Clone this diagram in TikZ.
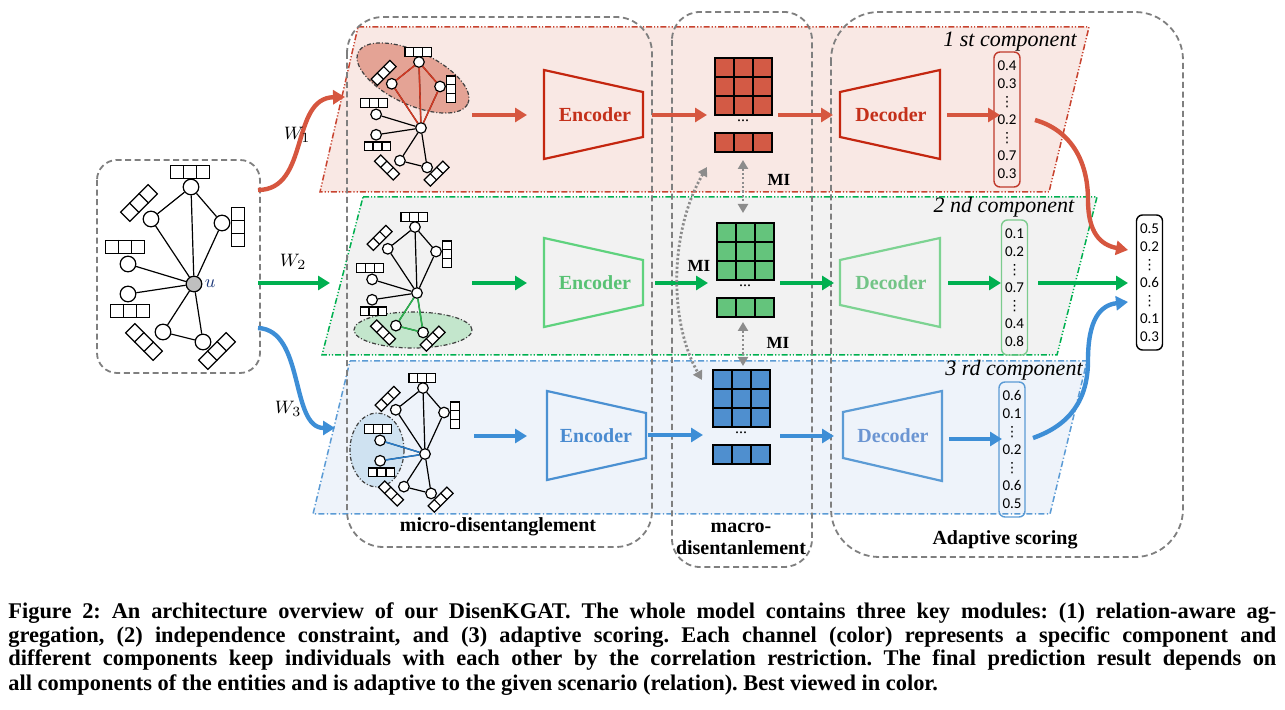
\documentclass[tikz,border=0pt]{standalone}
\usepackage{fontspec}
\setmainfont{Liberation Serif}
\newfontfamily\carlito{Carlito}
\newfontfamily\dejavu{DejaVu Sans}
\usetikzlibrary{arrows.meta,shapes.geometric,calc}
\definecolor{boxgray}{HTML}{7F7F7F}
\definecolor{migray}{HTML}{8C8C8C}
\definecolor{hlgray}{HTML}{404040}
\definecolor{ugray}{HTML}{BFBFBF}
\definecolor{ublue}{HTML}{1F3A7A}
\definecolor{bandRf}{HTML}{F9E8E4}
\definecolor{bandRd}{HTML}{C8432F}
\definecolor{bandGf}{HTML}{F2F2F2}
\definecolor{bandGd}{HTML}{00B050}
\definecolor{bandBf}{HTML}{EEF3FA}
\definecolor{bandBd}{HTML}{5B9BD5}
\definecolor{ellR}{HTML}{E4A395}
\definecolor{ellG}{HTML}{C3E6CC}
\definecolor{ellB}{HTML}{CFE2F1}
\definecolor{edR}{HTML}{D03A24}
\definecolor{edG}{HTML}{2DB34F}
\definecolor{edB}{HTML}{2A7CC8}
\definecolor{encRs}{HTML}{C4260F}
\definecolor{encRt}{HTML}{C4301A}
\definecolor{encGs}{HTML}{5FD27E}
\definecolor{encGt}{HTML}{58C274}
\definecolor{encBs}{HTML}{4A90D2}
\definecolor{encBt}{HTML}{4A8BD0}
\definecolor{decGs}{HTML}{7DD392}
\definecolor{decGt}{HTML}{72C486}
\definecolor{decBs}{HTML}{5B9BD5}
\definecolor{decBt}{HTML}{6B95D2}
\definecolor{aR}{HTML}{D6563F}
\definecolor{aG}{HTML}{00B050}
\definecolor{aB}{HTML}{3D8ED6}
\definecolor{mR}{HTML}{D35A45}
\definecolor{mG}{HTML}{64C47C}
\definecolor{mB}{HTML}{4F8FCF}
\definecolor{vR}{HTML}{C0392B}
\definecolor{vG}{HTML}{7CCB8E}
\definecolor{vB}{HTML}{5B9BD5}
\newcommand\vdt{{\dejavu\fontsize{7}{9}\selectfont ⋮}}
\newcommand\stripdiv[1]{\draw[gedge] ($(#1.north west)!0.3333!(#1.north east)$) -- ($(#1.south west)!0.3333!(#1.south east)$) ($(#1.north west)!0.6667!(#1.north east)$) -- ($(#1.south west)!0.6667!(#1.south east)$);}
% #1 prefix, #2 scale, #3 x, #4 y, #5 centre fill
\newcommand\kgraph[5]{%
\begin{scope}[shift={(#3,#4)}, scale=#2, every node/.append style={transform shape}]
\node[gnode, fill=#5] (#1u) at (0,0) {};
\node[gnode] (#1t) at (-3,-97) {};
\node[gnode] (#1a) at (-43,-65) {};
\node[gnode] (#1r) at (28,-61) {};
\node[gnode] (#1m) at (-66,-20) {};
\node[gnode] (#1n) at (-66,10) {};
\node[gnode] (#1p) at (-31,48) {};
\node[gnode] (#1q) at (9,58) {};
\node[strip] (#1st) at (-4,-112) {};
\node[strip, rotate=45] (#1sa) at (-55,-81) {};
\node[strip, rotate=90] (#1sr) at (44,-57) {};
\node[strip] (#1sm) at (-69,-37) {};
\node[strip] (#1sn) at (-64,27) {};
\node[strip, rotate=-45] (#1sp) at (-50,58) {};
\node[strip, rotate=45] (#1sq) at (23,67) {};
\draw[gedge] (#1u) -- (#1t) (#1u) -- (#1a) (#1u) -- (#1r) (#1t) -- (#1a) (#1t) -- (#1r)
  (#1u) -- (#1m) (#1u) -- (#1n) (#1u) -- (#1p) (#1u) -- (#1q) (#1p) -- (#1q);
\end{scope}
\stripdiv{#1st}\stripdiv{#1sa}\stripdiv{#1sr}\stripdiv{#1sm}\stripdiv{#1sn}\stripdiv{#1sp}\stripdiv{#1sq}}
\begin{document}
\begin{tikzpicture}[x=0.5pt, y=-0.5pt,
  gnode/.style={circle, draw, fill=white, minimum size=7.8pt, inner sep=0pt, line width=0.6pt},
  strip/.style={draw, fill=white, minimum width=19.5pt, minimum height=6.5pt, inner sep=0pt, line width=0.6pt},
  gedge/.style={line width=0.6pt},
  hledge/.style={line width=0.75pt},
  modbox/.style={draw=boxgray, line width=0.9pt, dash pattern=on 3pt off 1.8pt},
  bandline/.style={line width=0.75pt, dash pattern=on 3pt off 1pt on 0.6pt off 1pt on 0.6pt off 1pt},
  bandline2/.style={line width=0.75pt, dash pattern=on 3pt off 1.2pt on 0.6pt off 1.2pt},
  arr/.style={line width=2.2pt, -{Triangle[length=6pt,width=7pt]}},
  miarr/.style={draw=migray, line width=1.4pt, dash pattern=on 1.1pt off 1.1pt, {Triangle[length=4.5pt,width=5pt]}-{Triangle[length=4.5pt,width=5pt]}},
  hl/.style={ellipse, draw=hlgray, line width=0.6pt, inner sep=0pt, dash pattern=on 2pt off 1pt on 0.5pt off 1pt},
  coder/.style={font=\bfseries\fontsize{10}{12}\selectfont},
  trap/.style={line width=1.1pt},
  vec/.style={draw, rounded corners=3pt, line width=0.7pt, minimum width=13pt, minimum height=67.5pt, inner sep=0pt, align=center, font=\carlito\fontsize{7.5}{9}\selectfont},
  comp/.style={font=\itshape\fontsize{11}{13}\selectfont},
  modlab/.style={font=\bfseries\fontsize{10}{12}\selectfont, align=center},
  milab/.style={font=\bfseries\fontsize{8.5}{10}\selectfont},
  wlab/.style={font=\fontsize{9.5}{11}\selectfont},
  caption/.style={font=\bfseries\fontsize{11.2}{12}\selectfont\frenchspacing, anchor=base west, inner sep=0pt},
  cell/.style={draw=black, line width=0.7pt}
]
\useasboundingbox (0,0) rectangle (1285,710);

% ---- bands
\draw[bandline, draw=bandRd, fill=bandRf] (358,27) -- (1089,27) -- (1049,192) -- (320,192) -- cycle;
\draw[bandline, draw=bandGd, fill=bandGf] (363,197) -- (1097,197) -- (1057,355) -- (322,355) -- cycle;
\draw[bandline2, draw=bandBd, fill=bandBf] (350,361) -- (1087,361) -- (1050,514) -- (313,514) -- cycle;

% ---- module boxes
\draw[modbox, rounded corners=10pt] (97,160) rectangle (260,373);
\draw[modbox, rounded corners=18pt] (347,17) rectangle (652,547);
\draw[modbox, rounded corners=14pt] (672,12) rectangle (812,567);
\draw[modbox, rounded corners=24pt] (831,12) rectangle (1183,557);

% ---- highlight ellipses
\node[hl, fill=ellR, minimum width=60.5pt, minimum height=26.5pt, rotate=-25] (elR) at (413,78) {};
\node[hl, fill=ellG, minimum width=59pt, minimum height=18pt] (elG) at (413,330) {};
\node[hl, fill=ellB, minimum width=27pt, minimum height=37pt] (elB) at (377,450) {};

% ---- graphs
\kgraph{L-}{1}{194}{284}{ugray}
\kgraph{R-}{0.68}{421}{128}{white}
\kgraph{G-}{0.68}{417}{293}{white}
\kgraph{B-}{0.68}{425}{454}{white}
\node[anchor=west, inner sep=1pt, text=ublue, font=\fontsize{9}{10}\selectfont] (ulab) at (L-u.east) {$u$};

\draw[hledge, edR] (R-u) -- (R-t) (R-u) -- (R-a) (R-u) -- (R-r) (R-t) -- (R-a) (R-t) -- (R-r);
\draw[hledge, edG] (G-u) -- (G-p) (G-u) -- (G-q) (G-p) -- (G-q);
\draw[hledge, edB] (B-u) -- (B-m) (B-u) -- (B-n);

% ---- encoders / decoders
\draw[trap, encRs] (544,70) -- (643,92) -- (643,137) -- (544,159) -- cycle;
\node[coder, text=encRt] (encR) at (595,115) {Encoder};
\draw[trap, encGs] (544,238) -- (643,260) -- (643,305) -- (544,327) -- cycle;
\node[coder, text=encGt] (encG) at (595,283) {Encoder};
\draw[trap, encBs] (547,391) -- (646,413) -- (646,458) -- (547,480) -- cycle;
\node[coder, text=encBt] (encB) at (596,436) {Encoder};

\draw[trap, encRs] (840,92) -- (940,70) -- (940,159) -- (840,137) -- cycle;
\node[coder, text=encRt] (decR) at (891,115) {Decoder};
\draw[trap, decGs] (840,260) -- (940,238) -- (940,327) -- (840,305) -- cycle;
\node[coder, text=decGt] (decG) at (891,283) {Decoder};
\draw[trap, decBs] (843,412) -- (942,391) -- (942,481) -- (843,458) -- cycle;
\node[coder, text=decBt] (decB) at (893,436) {Decoder};

% ---- matrices
\foreach \c/\x/\y/\r in {mR/715/58/133, mG/717/223/298, mB/713/370/445}{
  \foreach \i in {0,1,2}{
    \foreach \j in {0,1,2}{
      \draw[cell, fill=\c] (\x+19*\i,\y+19*\j) rectangle (\x+19*\i+19,\y+19*\j+19);
    }
    \draw[cell, fill=\c] (\x+19*\i,\r) rectangle (\x+19*\i+19,\r+19);
  }
}
\node[font=\fontsize{8}{9}\selectfont, inner sep=0pt] (dotR) at (743,121) {...};
\node[font=\fontsize{8}{9}\selectfont, inner sep=0pt] (dotG) at (745,286) {...};
\node[font=\fontsize{8}{9}\selectfont, inner sep=0pt] (dotB) at (741,433) {...};

% ---- vectors
\node[vec, draw=vR] (vecR) at (1007,119.5) {0.4\\0.3\\\vdt\\0.2\\\vdt\\0.7\\0.3};
\node[vec, draw=vG] (vecG) at (1014.5,287.5) {0.1\\0.2\\\vdt\\0.7\\\vdt\\0.4\\0.8};
\node[vec, draw=vB] (vecB) at (1012,449.5) {0.6\\0.1\\\vdt\\0.2\\\vdt\\0.6\\0.5};
\node[vec, draw=black] (vecF) at (1149.5,282.5) {0.5\\0.2\\\vdt\\0.6\\\vdt\\0.1\\0.3};

% ---- component labels
\node[comp] (compR) at (1010,42) {1 \textit{st} component};
\node[comp] (compG) at (1004,207) {2 \textit{nd} component};
\node[comp] (compB) at (1014,370) {3 \textit{rd} component};

% ---- arrow coordinates
\coordinate (w1s) at (258,190); \coordinate (w1e) at (345,97);
\coordinate (w2s) at (258,283); \coordinate (w2e) at (330,283);
\coordinate (w3s) at (258,328); \coordinate (w3e) at (335,428);
\coordinate (r1) at (472,115); \coordinate (r2) at (527,115);
\coordinate (r3) at (652,115); \coordinate (r4) at (707,115);
\coordinate (r5) at (778,115); \coordinate (r6) at (833,115);
\coordinate (r7) at (947,115); \coordinate (r8) at (1000,115);
\coordinate (r9) at (1035,120); \coordinate (rm) at (1088,200); \coordinate (r10) at (1128,250);
\coordinate (g1) at (472,283); \coordinate (g2) at (527,283);
\coordinate (g3) at (655,283); \coordinate (g4) at (708,283);
\coordinate (g5) at (780,283); \coordinate (g6) at (834,283);
\coordinate (g7) at (948,283); \coordinate (g8) at (1001,283);
\coordinate (g9) at (1038,283); \coordinate (g10) at (1128,283);
\coordinate (b1) at (474,436); \coordinate (b2) at (527,436);
\coordinate (b3) at (648,435); \coordinate (b4) at (703,435);
\coordinate (b5) at (780,436); \coordinate (b6) at (834,436);
\coordinate (b7) at (949,439); \coordinate (b8) at (1002,439);
\coordinate (b9) at (1033,438); \coordinate (bm) at (1088,360); \coordinate (b10) at (1128,302);
\coordinate (mi1a) at (743,160); \coordinate (mi1b) at (743,213);
\coordinate (mi2a) at (743,322); \coordinate (mi2b) at (743,366);
\coordinate (mi3a) at (707,167); \coordinate (mi3b) at (702,380);

% ---- arrows
\draw[arr, aR] (w1s) .. controls (310,190) and (290,98) .. (w1e);
\draw[arr, aG] (w2s) -- (w2e);
\draw[arr, aB] (w3s) .. controls (305,330) and (290,428) .. (w3e);
\draw[arr, aR] (r1) -- (r2);
\draw[arr, aR] (r3) -- (r4);
\draw[arr, aR] (r5) -- (r6);
\draw[arr, aR] (r7) -- (r8);
\draw[arr, aR] (r9) .. controls (1070,130) and (1088,160) .. (rm) .. controls (1088,232) and (1100,245) .. (r10);
\draw[arr, aG] (g1) -- (g2);
\draw[arr, aG] (g3) -- (g4);
\draw[arr, aG] (g5) -- (g6);
\draw[arr, aG] (g7) -- (g8);
\draw[arr, aG] (g9) -- (g10);
\draw[arr, aB] (b1) -- (b2);
\draw[arr, aB] (b3) -- (b4);
\draw[arr, aB] (b5) -- (b6);
\draw[arr, aB] (b7) -- (b8);
\draw[arr, aB] (b9) .. controls (1070,425) and (1088,400) .. (bm) .. controls (1088,320) and (1100,305) .. (b10);

\draw[miarr] (mi1a) -- (mi1b);
\draw[miarr] (mi2a) -- (mi2b);
\draw[miarr] (mi3a) .. controls (670,230) and (668,320) .. (mi3b);

% ---- labels
\node[wlab] (W1) at (297,135) {$W_1$};
\node[wlab] (W2) at (293,262) {$W_2$};
\node[wlab] (W3) at (288,409) {$W_3$};
\node[milab] (MI1) at (779,180) {MI};
\node[milab] (MI2) at (699,266) {MI};
\node[milab] (MI3) at (778,343) {MI};
\node[modlab] (microlab) at (498,527) {micro-disentanglement};
\node[modlab] (macrolab) at (741,539) {macro-\\[-1pt]disentanlement};
\node[modlab] (adaplab) at (1005,540) {Adaptive scoring};

% ---- caption
\node[caption] (cap1) at (8,618) {\makebox[634pt][s]{Figure 2: An architecture overview of our DisenKGAT. The whole model contains three key modules: (1) relation-aware ag-}};
\node[caption] (cap2) at (8,642) {\makebox[634pt][s]{gregation, (2) independence constraint, and (3) adaptive scoring. Each channel (color) represents a specific component and}};
\node[caption] (cap3) at (8,666) {\makebox[634pt][s]{different components keep individuals with each other by the correlation restriction. The final prediction result depends on}};
\node[caption] (cap4) at (8,690) {all components of the entities and is adaptive to the given scenario (relation). Best viewed in color.};
\end{tikzpicture}
\end{document}
